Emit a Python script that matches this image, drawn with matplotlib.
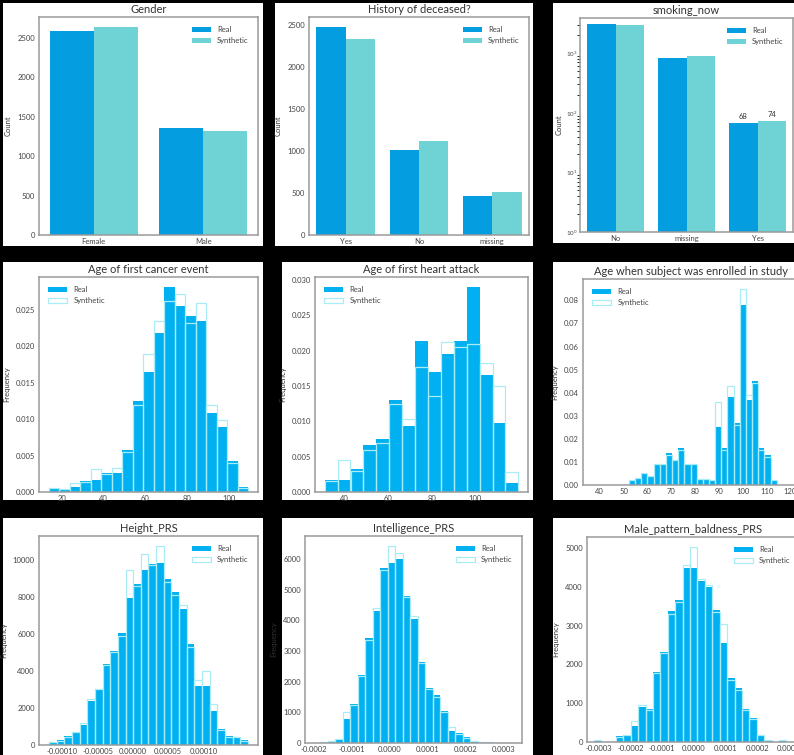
import numpy as np
import matplotlib
matplotlib.use("Agg")
import matplotlib.pyplot as plt
from matplotlib.patches import Rectangle
from matplotlib.ticker import MultipleLocator, FormatStrFormatter

plt.rcParams['font.family'] = ['Lato', 'DejaVu Sans']

W, H = 794, 755

# --- categorical counts ---
gender_cats = ["Female", "Male"]
gender_real = [2590, 1361]
gender_synth = [2632, 1318]

deceased_cats = ["Yes", "No", "missing"]
deceased_real = [2476, 1008, 468]
deceased_synth = [2332, 1120, 508]

smoking_cats = ["No", "missing", "Yes"]
smoking_real = [3040, 842, 68]
smoking_synth = [2990, 886, 74]

# --- histogram densities / counts (first bin edge, bin width, heights) ---
cancer_bins = (13.9, 5.02)
cancer_real = [0.00055, 0.00046, 0.0007, 0.0015, 0.0017, 0.0026, 0.0026, 0.0057, 0.0125, 0.0165,
               0.0218, 0.0281, 0.0255, 0.0242, 0.0234, 0.0109, 0.0089, 0.0043, 0.0007]
cancer_synth = [0.0005, 0.0004, 0.0012, 0.0014, 0.0032, 0.0025, 0.0033, 0.0055, 0.0120, 0.0189,
                0.0235, 0.0262, 0.0272, 0.0232, 0.0259, 0.0119, 0.0099, 0.0040, 0.0006]
cancer_ticks = [20, 40, 60, 80, 100]

heart_bins = (31.1, 5.9)
heart_real = [0.00165, 0.00165, 0.0033, 0.0066, 0.0075, 0.0131, 0.0094, 0.0214, 0.0170, 0.0195,
              0.0214, 0.0290, 0.0166, 0.0098, 0.0013]
heart_synth = [0.0015, 0.0046, 0.0030, 0.0060, 0.0070, 0.0125, 0.0104, 0.0177, 0.0136, 0.0213,
               0.0205, 0.0210, 0.0183, 0.0150, 0.0028]
heart_ticks = [40, 60, 80, 100]

enrolled_bins = (52.3, 2.58)
enrolled_real = [0.002, 0.003, 0.005, 0.004, 0.009, 0.009, 0.014, 0.011, 0.016, 0.009, 0.009, 0.0025,
                 0.0025, 0.0023, 0.025, 0.016, 0.038, 0.027, 0.078, 0.037, 0.045, 0.016, 0.013, 0.002]
enrolled_synth = [0.002, 0.003, 0.005, 0.004, 0.009, 0.009, 0.013, 0.011, 0.015, 0.009, 0.009, 0.0025,
                  0.0025, 0.0023, 0.036, 0.015, 0.043, 0.026, 0.085, 0.039, 0.044, 0.015, 0.012, 0.002]
enrolled_ticks = [40, 50, 60, 70, 80, 90, 100, 110, 120]

height_bins = (-0.000119, 1.086e-5)
height_real = [150, 250, 480, 700, 1070, 2360, 3040, 4380, 5090, 6040, 7930, 8700, 9450,
               9800, 9850, 8950, 8250, 7360, 5480, 3160, 3160, 1820, 840, 480, 450, 250]
height_synth = [140, 230, 450, 680, 1200, 2480, 3000, 4300, 5000, 5900, 9460, 8600, 10300,
                9700, 10750, 8800, 8100, 7570, 5300, 3520, 4000, 2210, 800, 450, 420, 230]
height_ticks = [-0.0001, -0.00005, 0.0, 0.00005, 0.0001]

intel_bins = (-0.000182, 1.97e-5)
intel_real = [30, 60, 100, 780, 1270, 2230, 3410, 4290, 5720, 5860, 5990, 4800, 4050,
              2640, 1800, 1560, 1050, 380, 320, 180, 60, 40, 20, 15, 5, 5]
intel_synth = [40, 80, 120, 1000, 1250, 2200, 3350, 4400, 5650, 6430, 6200, 4750, 4150,
               2600, 1750, 1500, 1000, 520, 300, 170, 70, 30, 20, 10, 5, 5]
intel_ticks = [-0.0002, -0.0001, 0.0, 0.0001, 0.0002, 0.0003]

male_bins = (-0.000316, 2.34e-5)
male_real = [30, 10, 0, 150, 180, 400, 900, 850, 1800, 2330, 3370, 3650, 4490,
             4490, 4150, 4000, 3400, 2550, 1650, 1380, 850, 620, 190, 50, 10, 40]
male_synth = [60, 10, 5, 140, 170, 550, 950, 820, 1780, 2300, 3300, 3600, 4550,
              5030, 4200, 4050, 3350, 3050, 1600, 1350, 820, 600, 180, 50, 10, 60]
male_ticks = [-0.0003, -0.0002, -0.0001, 0.0, 0.0001, 0.0002, 0.0003]

BAR_REAL = "#049ee0"
BAR_SYN = "#6fd3d6"
HIST_REAL = "#00b0f0"
HIST_SYN = "#a8ecf6"
TXT = "#333333"

fig = plt.figure(figsize=(W / 100, H / 100), dpi=100, facecolor="black")


def panel(box, frame):
    """White card in pixel coords (x0, y0, x1, y1 from top-left) with an axes inside."""
    x0, y0, x1, y1 = box
    fig.add_artist(Rectangle((x0 / W, 1 - y1 / H), (x1 - x0) / W, (y1 - y0) / H,
                             transform=fig.transFigure, facecolor="white", edgecolor="none", zorder=0))
    a0, b0, a1, b1 = frame
    ax = fig.add_axes([a0 / W, 1 - b1 / H, (a1 - a0) / W, (b1 - b0) / H])
    for s in ax.spines.values():
        s.set_color("#9a9a9a")
        s.set_linewidth(1.1)
    ax.tick_params(length=0, pad=3, labelsize=5.5, colors="#444444")
    ax.tick_params(axis="x", pad=2)
    return ax


def bar_panel(box, frame, title, cats, real, synth, log=False):
    ax = panel(box, frame)
    x = np.arange(len(cats))
    ax.bar(x - 0.2, real, 0.4, color=BAR_REAL, label="Real")
    ax.bar(x + 0.2, synth, 0.4, color=BAR_SYN, label="Synthetic")
    ax.set_xticks(x)
    ax.set_xticklabels(cats)
    ax.set_xlim(-0.5, len(cats) - 0.5)
    if log:
        ax.set_yscale("log")
    ax.set_ylabel("Count", fontsize=5.5, color=TXT, labelpad=4)
    ax.set_title(title, fontsize=8, color=TXT, pad=3)
    ax.legend(loc="upper right", frameon=False, fontsize=5.5, handlelength=2.5,
              labelcolor="#444444", borderaxespad=0.8)
    return ax


def hist_panel(box, frame, title, bins, real, synth, loc, ticks):
    ax = panel(box, frame)
    start, width = bins
    edges = start + width * np.arange(len(real))
    ax.bar(edges, real, width, align="edge", color=HIST_REAL, linewidth=0, label="Real")
    ax.bar(edges, synth, width, align="edge", fill=False, edgecolor=HIST_SYN, linewidth=0.9,
           label="Synthetic")
    ax.set_xticks(ticks)
    ax.set_ylabel("Frequency", fontsize=5.5, color=TXT, labelpad=4)
    ax.set_title(title, fontsize=8, color=TXT, pad=3)
    ax.legend(loc=loc, frameon=False, fontsize=5.5, handlelength=2.5,
              labelcolor="#444444", borderaxespad=0.8)
    return ax


# Row 1: categorical counts
bar_panel((3, 3, 263, 246), (39, 17, 258, 235), "Gender", gender_cats, gender_real, gender_synth)
bar_panel((275, 3, 533, 246), (309, 17, 529, 235), "History of deceased?",
          deceased_cats, deceased_real, deceased_synth)
ax3 = bar_panel((553, 3, 794, 243), (580, 18, 793, 232), "smoking_now",
                smoking_cats, smoking_real, smoking_synth, log=True)
ax3.set_ylim(1, 3900)
ax3.tick_params(axis="y", labelsize=4.5, pad=2)
ax3.yaxis.labelpad = 2
for xi, (r, s) in enumerate(zip(smoking_real, smoking_synth)):
    if smoking_cats[xi] == "Yes":
        ax3.text(xi - 0.2, r * 1.12, str(r), ha="center", va="bottom", fontsize=5.5, color=TXT)
        ax3.text(xi + 0.2, s * 1.12, str(s), ha="center", va="bottom", fontsize=5.5, color=TXT)

# Row 2: ages
ax4 = hist_panel((3, 262, 263, 500), (39, 277, 258, 492), "Age of first cancer event",
                 cancer_bins, cancer_real, cancer_synth, "upper left", cancer_ticks)
ax4.yaxis.set_major_locator(MultipleLocator(0.005))
ax4.yaxis.set_major_formatter(FormatStrFormatter("%.3f"))

ax5 = hist_panel((282, 262, 533, 500), (315, 277, 528, 492), "Age of first heart attack",
                 heart_bins, heart_real, heart_synth, "upper left", heart_ticks)
ax5.yaxis.set_major_locator(MultipleLocator(0.005))
ax5.yaxis.set_major_formatter(FormatStrFormatter("%.3f"))

ax6 = hist_panel((553, 262, 794, 500), (583, 279, 800, 485), "Age when subject was enrolled in study",
                 enrolled_bins, enrolled_real, enrolled_synth, "upper left", enrolled_ticks)
ax6.set_xlim(33, 124)
ax6.yaxis.set_major_locator(MultipleLocator(0.01))
ax6.yaxis.set_major_formatter(FormatStrFormatter("%.2f"))

# Row 3: polygenic risk scores
ax7 = hist_panel((3, 518, 263, 755), (39, 536, 258, 745), "Height_PRS",
                 height_bins, height_real, height_synth, "upper right", height_ticks)
ax7.xaxis.set_major_formatter(FormatStrFormatter("%.5f"))
ax7.yaxis.set_major_locator(MultipleLocator(2000))

ax8 = hist_panel((282, 518, 533, 755), (305, 536, 522, 743), "Intelligence_PRS",
                 intel_bins, intel_real, intel_synth, "upper right", intel_ticks)
ax8.set_xlim(-0.000222, 0.000348)
ax8.xaxis.set_major_formatter(FormatStrFormatter("%.4f"))
ax8.yaxis.set_major_locator(MultipleLocator(1000))

ax9 = hist_panel((553, 518, 794, 755), (587, 537, 800, 742), "Male_pattern_baldness_PRS",
                 male_bins, male_real, male_synth, "upper right", male_ticks)
ax9.set_xlim(-0.000337, 0.000335)
ax9.xaxis.set_major_formatter(FormatStrFormatter("%.4f"))
ax9.yaxis.set_major_locator(MultipleLocator(1000))

fig.savefig("out.png", dpi=100, facecolor="black")
